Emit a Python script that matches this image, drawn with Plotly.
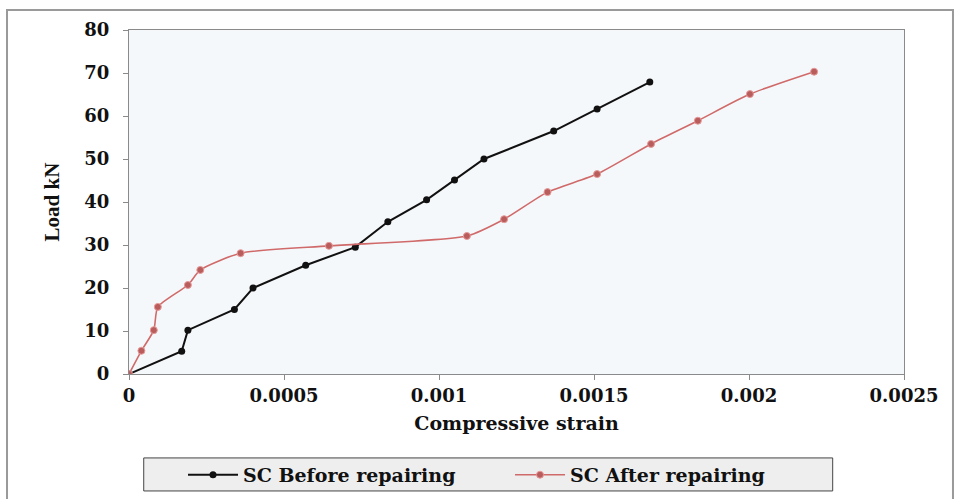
import plotly.graph_objects as go

# Load vs compressive strain for the SC specimen
strain_before = [0, 0.00017, 0.00019, 0.00034, 0.00040, 0.00057, 0.00073,
                 0.000835, 0.00096, 0.00105, 0.001145, 0.00137, 0.00151, 0.00168]
load_before = [0, 5.3, 10.2, 15.0, 20.0, 25.3, 29.5,
               35.4, 40.5, 45.1, 50.0, 56.5, 61.6, 67.9]

strain_after = [0, 0.00004, 0.00008, 0.000093, 0.00019, 0.00023, 0.00036,
                0.000645, 0.00109, 0.00121, 0.00135, 0.00151, 0.001684,
                0.001835, 0.002003, 0.00221]
load_after = [0, 5.4, 10.2, 15.6, 20.7, 24.2, 28.1,
              29.8, 32.1, 36.0, 42.3, 46.5, 53.5,
              58.9, 65.1, 70.3]

x_ticks = [0, 0.0005, 0.001, 0.0015, 0.002, 0.0025]
x_tick_labels = ["0", "0.0005", "0.001", "0.0015", "0.002", "0.0025"]
y_ticks = [0, 10, 20, 30, 40, 50, 60, 70, 80]

WIDE_SERIF = "DejaVu Serif, serif"
SERIF = "Liberation Serif, Times New Roman, serif"

fig = go.Figure()

fig.add_trace(go.Scatter(
    x=strain_before, y=load_before, mode="lines+markers",
    name="SC Before repairing",
    line=dict(color="#111111", width=2),
    marker=dict(color="#111111", size=7, symbol="circle"),
))

fig.add_trace(go.Scatter(
    x=strain_after, y=load_after, mode="lines+markers",
    name="SC After repairing",
    line=dict(color="#d06a6a", width=1.6, shape="spline", smoothing=0.6),
    marker=dict(color="#b85c5c", size=7, symbol="circle",
                line=dict(color="#e79a9a", width=1)),
))

axis_common = dict(
    showgrid=False, zeroline=False,
    showline=True, linecolor="#8a8a8a", linewidth=1, mirror=True,
    ticks="outside", ticklen=5, tickcolor="#8a8a8a",
    tickfont=dict(family=WIDE_SERIF, size=18, color="#111111", weight="bold"),
    automargin=False,
)

fig.update_xaxes(
    range=[0, 0.0025], tickvals=x_ticks, ticktext=x_tick_labels,
    title=dict(text="Compressive strain", standoff=12,
               font=dict(family=WIDE_SERIF, size=19, color="#111111", weight="bold")),
    **axis_common,
)
fig.update_yaxes(
    range=[0, 80], tickvals=y_ticks, ticklabelstandoff=10,
    title=dict(text="Load kN", standoff=18,
               font=dict(family=SERIF, size=21, color="#111111", weight="bold")),
    **axis_common,
)

# Outer frame around the whole chart
fig.add_shape(type="rect", xref="paper", yref="paper",
              x0=-0.1574, x1=1.0632, y0=-0.40, y1=1.058,
              line=dict(color="#9a9a9a", width=2), fillcolor="rgba(0,0,0,0)",
              layer="below")

# Legend box
fig.add_shape(type="rect", xref="paper", yref="paper",
              x0=0.019, x1=0.908, y0=-0.340, y1=-0.244,
              line=dict(color="#444444", width=1), fillcolor="#eeeeee",
              layer="below")

fig.update_layout(
    width=958, height=499,
    margin=dict(l=129, r=54, t=30, b=125, autoexpand=False),
    paper_bgcolor="white",
    plot_bgcolor="#f5f8fa",
    font=dict(family=WIDE_SERIF, color="#111111"),
    legend=dict(
        orientation="h", x=0.0697, y=-0.238, xanchor="left", yanchor="top",
        bgcolor="rgba(0,0,0,0)", borderwidth=0,
        font=dict(family=WIDE_SERIF, size=19, color="#111111", weight="bold"),
        entrywidth=262, itemwidth=50,
    ),
)

fig.write_html("out.html")
